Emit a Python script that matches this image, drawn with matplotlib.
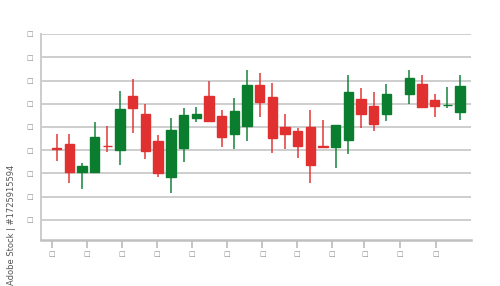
import numpy as np
import matplotlib
matplotlib.use("Agg")
import matplotlib.pyplot as plt

# candle positions (one unit = one session, a gap before the last five)
positions = [1, 2, 3, 4, 5, 6, 7, 8, 9, 10, 11, 12, 13, 14, 15, 16, 17, 18, 19, 20,
             21, 22, 23, 24, 25, 26, 27, 28.8, 29.8, 30.8, 31.8, 32.8]
opens = [4.09, 4.27, 3.05, 3.05, 4.20, 3.99, 6.32, 5.54, 4.40, 2.85, 4.08, 5.37, 6.34, 5.47, 4.68, 5.04,
         6.79, 6.30, 5.01, 4.83, 5.01, 4.18, 4.14, 4.45, 6.19, 5.91, 5.55, 6.43, 6.83, 6.17, 5.94, 5.65]
highs = [4.69, 4.69, 3.46, 5.20, 5.04, 6.57, 7.07, 5.97, 4.64, 5.37, 5.81, 5.87, 6.98, 5.71, 6.23, 7.45,
         7.31, 6.88, 5.58, 4.96, 5.74, 5.28, 5.08, 7.23, 6.66, 6.50, 6.83, 7.45, 7.23, 6.40, 6.73, 7.23]
lows = [3.53, 2.58, 2.35, 3.05, 3.92, 3.36, 4.73, 3.61, 2.83, 2.14, 3.50, 5.20, 5.25, 4.16, 4.05, 4.39,
        5.42, 3.89, 4.06, 3.67, 2.57, 4.15, 3.24, 3.82, 4.96, 4.81, 5.26, 6.00, 5.84, 5.44, 5.80, 5.31]
closes = [4.07, 3.08, 3.33, 4.55, 4.18, 5.78, 5.80, 3.97, 3.04, 4.88, 5.50, 5.58, 5.25, 4.59, 5.67, 6.79,
          6.07, 4.53, 4.70, 4.17, 3.36, 4.16, 5.07, 6.49, 5.57, 5.11, 6.40, 7.12, 5.84, 5.89, 5.96, 6.75]

xtick_pos = [0.61, 3.37, 6.13, 8.89, 11.65, 14.42, 17.22, 19.95, 22.71, 25.26, 28.05, 30.9]
ytick_pos = [1, 2, 3, 4, 5, 6, 7, 8, 9]
tick_label = "\u25a1"

up_color = "#0b7d2f"
down_color = "#e0302f"

fig = plt.figure(figsize=(5, 2.86), dpi=100)
ax = fig.add_axes([0.082, 0.161, 0.86, 0.72])

o = np.array(opens)
c = np.array(closes)
colors = [up_color if cc >= oo else down_color for oo, cc in zip(o, c)]

# wicks
ax.vlines(positions, lows, highs, colors=colors, linewidth=1.4, alpha=0.75, zorder=3)
# bodies
ax.bar(positions, np.abs(c - o), bottom=np.minimum(o, c), width=0.74,
       color=colors, edgecolor=colors, linewidth=1.0, zorder=4)

ax.set_xlim(-0.24, 33.67)
ax.set_ylim(0.14, 9)

ax.set_yticks(ytick_pos)
ax.set_yticklabels([tick_label] * len(ytick_pos))
ax.set_xticks(xtick_pos)
ax.set_xticklabels([tick_label] * len(xtick_pos))
ax.tick_params(axis="y", length=0, pad=6, labelsize=5, labelcolor="#888888")
ax.tick_params(axis="x", length=6, width=1.2, color="#bbbbbb", pad=2,
               labelsize=5, labelcolor="#888888")

ax.grid(True, axis="y", color="#c6c6c6", linewidth=1.2, zorder=0)
ax.set_axisbelow(True)

for side in ["top", "right"]:
    ax.spines[side].set_visible(False)
ax.spines["left"].set_color("#cccccc")
ax.spines["left"].set_linewidth(1.4)
ax.spines["bottom"].set_color("#c0c0c0")
ax.spines["bottom"].set_linewidth(1.8)

fig.text(0.024, 0.215, "Adobe Stock | #1725915594", rotation=90, fontsize=6,
         color="#555555", ha="center", va="center")

fig.savefig("out.png", dpi=100, facecolor="white")
